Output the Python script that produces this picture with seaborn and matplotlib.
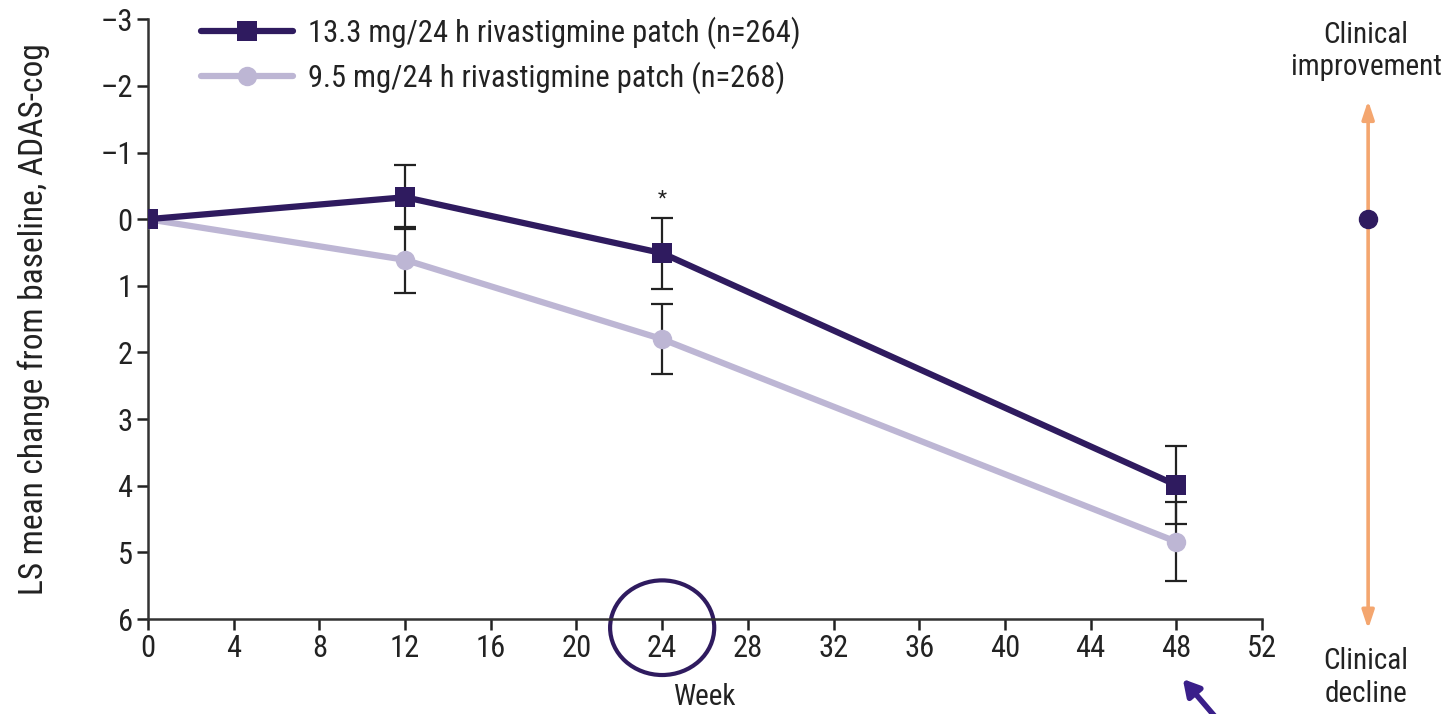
import numpy as np
import pandas as pd
import seaborn as sns
import matplotlib
matplotlib.use("Agg")
import matplotlib.pyplot as plt
from matplotlib.lines import Line2D
from matplotlib.patches import Ellipse

# ADAS-cog LS mean change from baseline by week
weeks = [0, 12, 24, 48]
high_dose = [0.0, -0.33, 0.51, 3.99]      # 13.3 mg/24 h
high_err = [0.0, 0.48, 0.53, 0.59]
low_dose = [0.0, 0.61, 1.80, 4.84]       # 9.5 mg/24 h
low_err = [0.0, 0.49, 0.53, 0.59]
series_labels = ["13.3 mg/24 h rivastigmine patch (n=264)",
                 "9.5 mg/24 h rivastigmine patch (n=268)"]
x_ticks = [0, 4, 8, 12, 16, 20, 24, 28, 32, 36, 40, 44, 48, 52]
y_ticks = [-3, -2, -1, 0, 1, 2, 3, 4, 5, 6]

DARK = "#2f1b5f"
LIGHT = "#bdb6d4"
ORANGE = "#f4a66f"
TEXT = "#222222"

sns.set_theme(style="ticks")
plt.rcParams["font.family"] = ["Roboto Condensed", "DejaVu Sans"]
plt.rcParams["axes.linewidth"] = 1.8

df = pd.DataFrame({
    "week": weeks * 2,
    "change": high_dose + low_dose,
    "group": [series_labels[0]] * 4 + [series_labels[1]] * 4,
})

fig = plt.figure(figsize=(14.52, 7.14), dpi=100)
ax = fig.add_axes([0.1019, 0.133, 0.7673, 0.840])

# error bars first so lines sit on top
for vals, errs in ((low_dose, low_err), (high_dose, high_err)):
    ax.errorbar(weeks[1:], vals[1:], yerr=errs[1:], fmt="none", ecolor=TEXT,
                elinewidth=1.6, capsize=8, capthick=1.6, zorder=2)

sns.lineplot(data=df, x="week", y="change", hue="group", style="group",
             palette={series_labels[0]: DARK, series_labels[1]: LIGHT},
             markers={series_labels[0]: "s", series_labels[1]: "o"},
             dashes=False, markersize=14, linewidth=4.5, markeredgewidth=0,
             hue_order=series_labels[::-1], legend=False, ax=ax, zorder=3)
# keep the 13.3 mg line drawn above the 9.5 mg line
for ln in ax.lines:
    if ln.get_color() == DARK:
        ln.set_zorder(4)

ax.set_xlim(0, 52)
ax.set_ylim(6, -3)
ax.set_xticks(x_ticks)
ax.set_yticks(y_ticks)
ax.set_yticklabels([f"\u2013{abs(v)}" if v < 0 else str(v) for v in y_ticks])
ax.tick_params(axis="both", labelsize=22, length=8, width=1.8, colors=TEXT,
               pad=3)
for s in ("top", "right"):
    ax.spines[s].set_visible(False)
for s in ("left", "bottom"):
    ax.spines[s].set_color("#333333")
ax.set_xlabel("Week", fontsize=21, color=TEXT, labelpad=14)
ax.set_ylabel("LS mean change from baseline, ADAS-cog", fontsize=24,
              color=TEXT, labelpad=36)

# significance marker
ax.text(24, -0.3, "*", ha="center", va="center", fontsize=15, color=TEXT)

handles = [
    Line2D([], [], color=DARK, lw=4.5, marker="s", markersize=14, markeredgewidth=0),
    Line2D([], [], color=LIGHT, lw=4.5, marker="o", markersize=14, markeredgewidth=0),
]
leg = ax.legend(handles, series_labels, loc="upper left",
                bbox_to_anchor=(0.023, 1.05), frameon=False, fontsize=22,
                handlelength=3.0, handletextpad=0.5, labelspacing=0.4,
                labelcolor=TEXT)

# clinical direction indicator on the right
ax.annotate("", xy=(56.95, -1.78), xytext=(56.95, 6.15),
            arrowprops=dict(arrowstyle="<|-|>,head_length=0.9,head_width=0.3",
                            color=ORANGE, lw=2.6, shrinkA=0, shrinkB=0),
            annotation_clip=False)
ax.plot([56.95], [0], marker="o", markersize=13, color=DARK, clip_on=False,
        zorder=5)
ax.text(56.85, -2.52, "Clinical\nimprovement", ha="center", va="center",
        fontsize=21, color=TEXT, linespacing=1.2, clip_on=False)
ax.text(56.85, 6.88, "Clinical\ndecline", ha="center", va="center",
        fontsize=21, color=TEXT, linespacing=1.2, clip_on=False)

# highlight around week 24 tick and pointer at week 48
ax.add_patch(Ellipse((24, 6.13), width=4.86, height=1.42, fill=False,
                     edgecolor=DARK, lw=3, clip_on=False))
ax.annotate("", xy=(48.3, 6.9), xytext=(49.9, 7.5),
            arrowprops=dict(arrowstyle="-|>,head_length=0.8,head_width=0.45",
                            color="#3a1f8a", lw=4, shrinkA=0, shrinkB=0),
            annotation_clip=False)

fig.savefig("out.png", dpi=100)
